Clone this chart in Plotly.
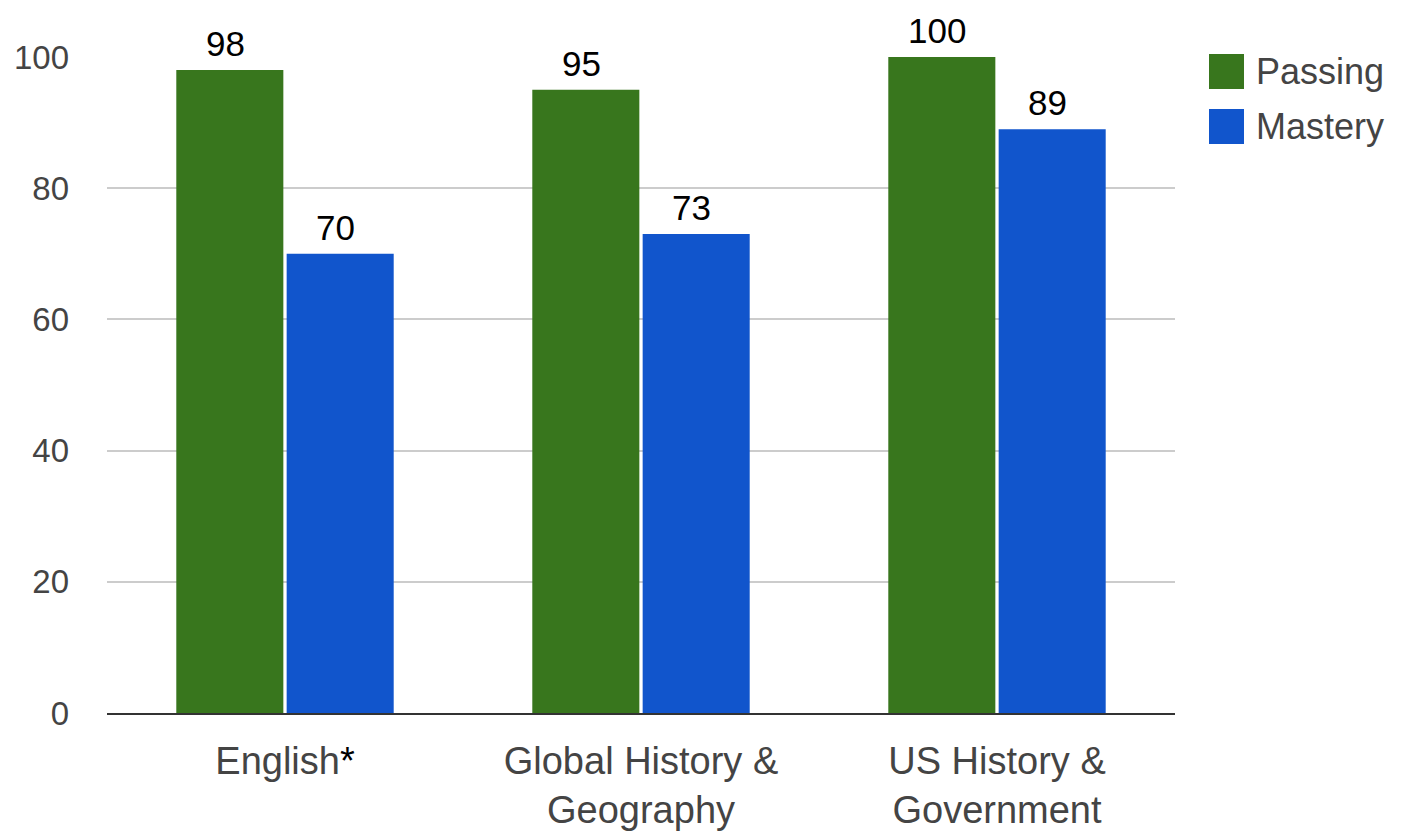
import plotly.graph_objects as go

categories = ["English<span style='color:#000'>*</span>", "Global History &<br>Geography", "US History &<br>Government"]
passing = [98, 95, 100]
mastery = [70, 73, 89]
series_names = ["Passing", "Mastery"]
colors = ["#38761d", "#1155cc"]
y_ticks = [0, 20, 40, 60, 80, 100]

FONT = "Arial, Liberation Sans, sans-serif"

fig = go.Figure()
for name, vals, col in zip(series_names, [passing, mastery], colors):
    fig.add_trace(go.Bar(
        x=categories, y=vals, name=name,
        marker=dict(color=col, line=dict(width=0)),
        showlegend=False,
    ))

# value labels above the bars
for vals, shift in zip([passing, mastery], [-60, 50]):
    for c, v in zip(categories, vals):
        fig.add_annotation(x=c, y=v, text=str(v), showarrow=False,
                           xanchor="center", yanchor="bottom",
                           xshift=shift, yshift=5,
                           font=dict(family=FONT, size=35, color="#000"))

# page body has an 8px margin, so the figure is offset by 8px
fig.update_layout(
    width=1394, height=827,
    margin=dict(l=99, r=227, t=49, b=122, autoexpand=False),
    paper_bgcolor="white", plot_bgcolor="white",
    barmode="group", bargap=0.38, bargroupgap=0.03,
    font=dict(family=FONT, color="#444"),
)
fig.update_yaxes(
    range=[0, 100], tickvals=y_ticks, ticktext=[str(t) for t in y_ticks],
    showgrid=True, gridcolor="#cccccc", gridwidth=2,
    zeroline=False, showline=False, automargin=False,
    tickfont=dict(family=FONT, size=33, color="#444"),
    ticks="", ticklabelstandoff=37,
)
fig.update_xaxes(
    showline=True, linecolor="#333", linewidth=2, automargin=False,
    tickfont=dict(family=FONT, size=38, color="#444"),
    ticks="", ticklabelstandoff=13,
)

# custom legend (positions relative to plot area: left 107px, bottom 713px, height 656px)
legend_y = [71.5, 126.5]
for name, col, yc in zip(series_names, colors, legend_y):
    fig.add_shape(type="rect", xref="paper", yref="paper",
                  x0=(1209 - 107) / 1068, x1=(1244 - 107) / 1068,
                  y0=(713 - (yc + 17.5)) / 656, y1=(713 - (yc - 17.5)) / 656,
                  fillcolor=col, line=dict(width=0))
    fig.add_annotation(xref="paper", yref="paper",
                       x=(1254 - 107) / 1068, y=(713 - yc) / 656,
                       text=name, showarrow=False, xanchor="left", yanchor="middle",
                       font=dict(family=FONT, size=36, color="#444"))

fig.write_html("out.html")
